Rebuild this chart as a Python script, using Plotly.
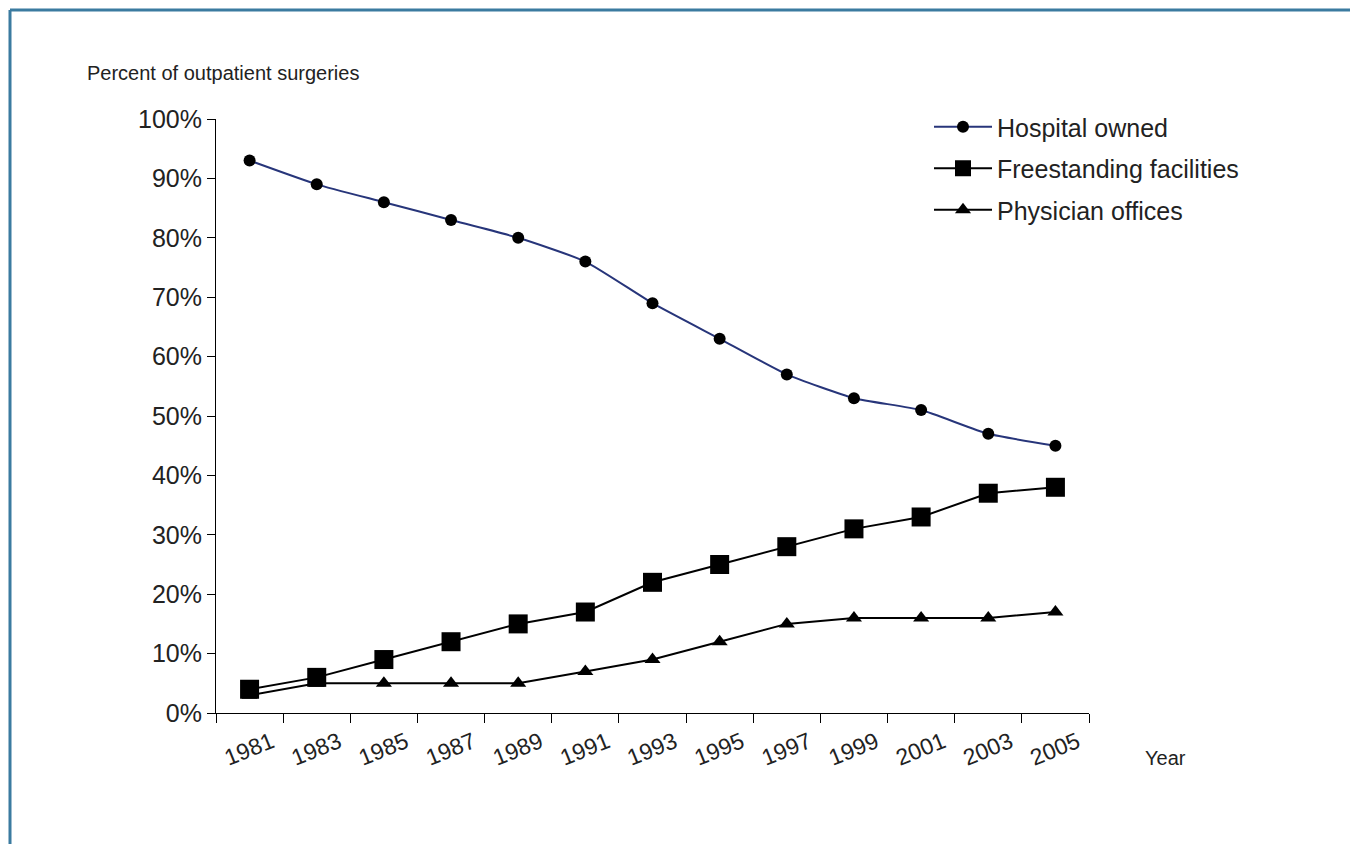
import plotly.graph_objects as go

# data (percent of outpatient surgeries)
years = ["1981", "1983", "1985", "1987", "1989", "1991", "1993",
         "1995", "1997", "1999", "2001", "2003", "2005"]
hospital_owned = [93, 89, 86, 83, 80, 76, 69, 63, 57, 53, 51, 47, 45]
freestanding = [4, 6, 9, 12, 15, 17, 22, 25, 28, 31, 33, 37, 38]
physician_offices = [3, 5, 5, 5, 5, 7, 9, 12, 15, 16, 16, 16, 17]
y_ticks = [0, 10, 20, 30, 40, 50, 60, 70, 80, 90, 100]

font_family = "Arial, Liberation Sans, sans-serif"
text_color = "#222222"
frame_color = "#3b7ba0"

# the page body adds an 8px margin, so the figure is a bit smaller than the window
OFF = 8
W, H = 1358 - OFF, 844 - OFF
# plot area in page pixels
L, R, T, B = 216, 1089, 119, 713

fig = go.Figure()

fig.add_trace(go.Scatter(
    x=years, y=hospital_owned, name="Hospital owned", legendgroup="a",
    mode="lines+markers",
    line=dict(color="#27357a", width=2, shape="spline", smoothing=0.5),
    marker=dict(symbol="circle", size=12, color="black"),
))
fig.add_trace(go.Scatter(
    x=years, y=freestanding, name="Freestanding facilities", legendgroup="b",
    mode="lines+markers",
    line=dict(color="black", width=2),
    marker=dict(symbol="square", size=19, color="black"),
))
fig.add_trace(go.Scatter(
    x=years, y=physician_offices, name="Physician offices", legendgroup="c",
    mode="lines+markers",
    line=dict(color="black", width=2),
    marker=dict(symbol="triangle-up", size=14, color="black"),
))


def px_x(p):
    return (p - L) / (R - L)


def px_y(p):
    return (B - p) / (B - T)


fig.update_layout(
    width=W, height=H,
    margin=dict(l=L - OFF, r=W - (R - OFF), t=T - OFF, b=H - (B - OFF)),
    paper_bgcolor="white", plot_bgcolor="white",
    font=dict(family=font_family, color=text_color),
    showlegend=True,
    legend=dict(
        x=px_x(929), y=px_y(104), xanchor="left", yanchor="top",
        font=dict(size=25, color=text_color),
        itemwidth=58, traceorder="grouped", tracegroupgap=6,
        bgcolor="rgba(0,0,0,0)",
    ),
    xaxis=dict(
        type="category", range=[-0.5, 12.5],
        tickson="boundaries", ticks="outside", ticklen=9, tickcolor="black",
        showline=True, linecolor="black", linewidth=1,
        showgrid=False, zeroline=False,
        tickangle=-22, tickfont=dict(size=23, color=text_color),
        ticklabelshift=22, ticklabelstandoff=6,
    ),
    yaxis=dict(
        range=[0, 100], tickvals=y_ticks,
        ticktext=[f"{v}%" for v in y_ticks],
        ticks="outside", ticklen=8, tickcolor="black",
        showline=True, linecolor="black", linewidth=1,
        showgrid=False, zeroline=False,
        tickfont=dict(size=25, color=text_color),
    ),
    annotations=[
        dict(text="Percent of outpatient surgeries", xref="paper", yref="paper",
             x=px_x(85), y=px_y(73), xanchor="left", yanchor="middle",
             showarrow=False, font=dict(size=20, color=text_color)),
        dict(text="Year", xref="paper", yref="paper",
             x=px_x(1143), y=px_y(758), xanchor="left", yanchor="middle",
             showarrow=False, font=dict(size=20, color=text_color)),
    ],
    shapes=[
        dict(type="line", xref="paper", yref="paper",
             x0=px_x(10), x1=px_x(1365), y0=px_y(10), y1=px_y(10),
             line=dict(color=frame_color, width=3)),
        dict(type="line", xref="paper", yref="paper",
             x0=px_x(10), x1=px_x(10), y0=px_y(10), y1=px_y(850),
             line=dict(color=frame_color, width=3)),
    ],
)

fig.write_html("out.html")
